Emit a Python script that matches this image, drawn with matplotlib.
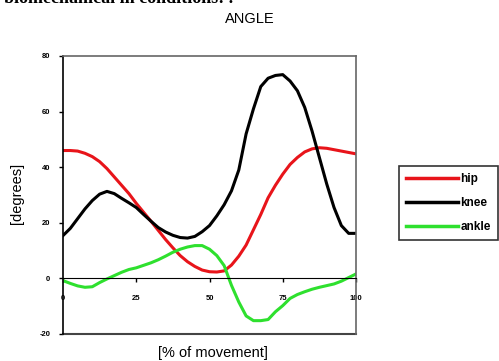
import matplotlib
matplotlib.use("Agg")
import matplotlib.pyplot as plt

plt.rcParams['font.family'] = ['Liberation Sans', 'DejaVu Sans']

pct = [0, 2.5, 5, 7.5, 10, 12.5, 15, 17.5, 20, 22.5, 25, 27.5, 30, 32.5, 35, 37.5,
       40, 42.5, 45, 47.5, 50, 52.5, 55, 57.5, 60, 62.5, 65, 67.5, 70, 72.5, 75,
       77.5, 80, 82.5, 85, 87.5, 90, 92.5, 95, 97.5, 100]

hip = [46, 46, 45.8, 45, 43.8, 42, 39.5, 36.5, 33.5, 30.5, 27, 23.8, 20.6, 17.3, 14, 11,
       8.2, 6, 4.3, 3, 2.4, 2.3, 2.7, 4.8, 8, 12, 17.5, 23, 29, 33.5, 37.5,
       41, 43.5, 45.5, 46.6, 47, 46.8, 46.3, 45.8, 45.3, 44.8]

knee = [15.4, 18, 21.5, 25, 28, 30.3, 31.3, 30.5, 28.8, 27.2, 25.5, 23, 20.6, 18.3, 16.7, 15.5,
        14.7, 14.5, 15.1, 16.8, 19, 22.5, 26.5, 31.5, 39, 52, 61, 69, 72, 73, 73.3,
        71, 67.5, 61.5, 53, 43.5, 34, 25.5, 19, 16.2, 16.2]

ankle = [-0.8, -1.8, -2.7, -3.2, -3, -1.5, -0.2, 1, 2.2, 3.2, 3.8, 4.7, 5.6, 6.7, 8, 9.4,
         10.5, 11.3, 11.8, 11.8, 10.5, 8.2, 4.6, -2.5, -8.5, -13.5, -15.2, -15.2, -14.8, -12, -9.8,
         -7.2, -5.8, -4.8, -3.9, -3.2, -2.6, -2, -1, 0.3, 1.6]

series_names = ["hip", "knee", "ankle"]
colors = ["#e8141a", "#000000", "#2ee02e"]

xticks = [0, 25, 50, 75, 100]
yticks = [-20, 0, 20, 40, 60, 80]

W, H = 499, 361
fig = plt.figure(figsize=(W / 100, H / 100), dpi=100)
ax = fig.add_axes([63 / W, 1 - 334 / H, (356 - 63) / W, (334 - 56) / H])

ax.spines['bottom'].set_position(('data', 0))

for vals, name, c in zip([hip, knee, ankle], series_names, colors):
    ax.plot(pct, vals, color=c, lw=2.2, label=name, solid_joinstyle='round')

ax.set_xlim(0, 100)
ax.set_ylim(-20, 80)
ax.set_xticks(xticks)
ax.set_yticks(yticks)
ax.set_xticklabels([str(t) for t in xticks], fontsize=5.5, fontweight='bold')
ax.set_yticklabels([str(t) for t in yticks], fontsize=5.5, fontweight='bold')
ax.tick_params(axis='y', direction='out', length=3, width=1, pad=6)
ax.tick_params(axis='x', direction='out', length=3, width=1, pad=9)

ax.spines['bottom'].set_color('black')
ax.spines['left'].set_color('black')
ax.spines['left'].set_linewidth(1.2)
for s in ['top', 'right']:
    ax.spines[s].set_color('#666666')
    ax.spines[s].set_linewidth(1.2)
ax.axhline(-20, color='#444444', lw=1.5, clip_on=False)

fig.text(250 / W, 1 - 19 / H, "ANGLE", ha='center', va='center', fontsize=10.5)
fig.text(17 / W, 1 - 193 / H, "[degrees]", ha='center', va='center', rotation=90, fontsize=10.5)
fig.text(213 / W, 1 - 353 / H, "[% of movement]", ha='center', va='center', fontsize=10.5)
fig.text(233 / W, 1 - 3 / H, "biomechanical in conditions: .", ha='right', va='baseline',
         fontsize=13, fontweight='bold', family='Liberation Serif')

leg = fig.legend(loc='upper left', bbox_to_anchor=(399 / W, 1 - 166 / H),
                 prop={'weight': 'bold', 'size': 8.5},
                 frameon=True, fancybox=False, handlelength=4.4, handletextpad=0.2,
                 labelspacing=1.0, borderpad=0.6, borderaxespad=0)
leg.get_frame().set_edgecolor('black')
leg.get_frame().set_linewidth(1.2)
for l in leg.get_lines():
    l.set_linewidth(2.5)

fig.savefig("out.png", dpi=100)
